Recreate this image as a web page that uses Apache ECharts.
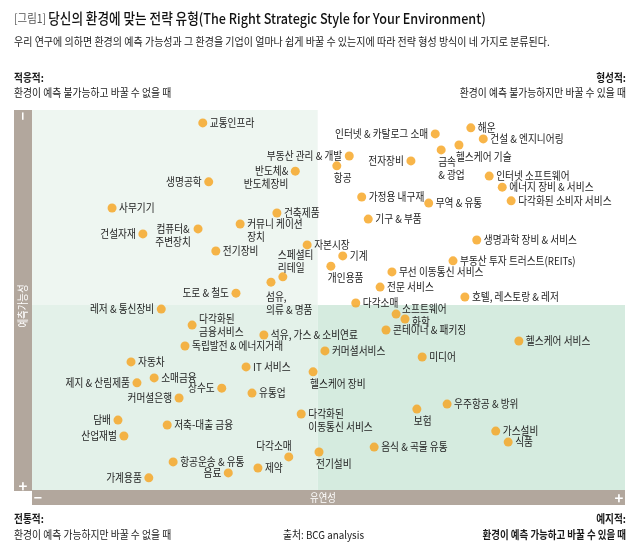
<!DOCTYPE html>
<html>
<head>
<meta charset="utf-8">
<script src="https://cdn.jsdelivr.net/npm/echarts@6/dist/echarts.min.js"></script>
<style>
html,body{margin:0;padding:0;background:#fff;}
#chart{width:640px;height:557px;}
</style>
</head>
<body>
<div id="chart"></div>
<script>
// ---- Data (flexibility: 0 = 'ー' left, 100 = '+' right; predictability: 0 = 'ー' top, 100 = '+' bottom)
const industries = [
  '교통인프라','부동산 관리 & 개발','반도체&\n반도체장비','생명공학','사무기기','건축제품',
  '커뮤니 케이션\n장치','컴퓨터&\n주변장치','건설자재','전기장비','자본시장','스페셜티\n리테일',
  '섬유,\n의류 & 명품','개인용품','기계','도로 & 철도','레저 & 통신장비','다각화된\n금융서비스',
  '석유, 가스 & 소비연료','독립발전 & 에너지거래','자동차','IT 서비스','헬스케어 장비','소매금융',
  '제지 & 산림제품','상수도','유통업','커머셜은행','다각화된\n이동통신 서비스','담배',
  '저축-대출 금융','산업재벌','다각소매','전기설비','항공운송 & 유통','제약',
  '음료','가계용품','인터넷 & 카탈로그 소매','해운','건설 & 엔지니어링','금속\n& 광업',
  '헬스케어 기술','전자장비','항공','인터넷 소프트웨어','에너지 장비 & 서비스','다각화된 소비자 서비스',
  '가정용 내구재','무역 & 유통','기구 & 부품','생명과학 장비 & 서비스','부동산 투자 트러스트(REITs)','무선 이동통신 서비스',
  '전문 서비스','호텔, 레스토랑 & 레저','다각소매','소프트웨어','화학','콘테이너 & 패키징',
  '헬스케어 서비스','커머셜서비스','미디어','우주항공 & 방위','보험','가스설비',
  '식품','음식 & 곡물 유통'
];
const flexibility = [
  28.8,53.5,44.4,29.8,13.5,41.3,
  35.1,28.0,18.7,31.0,46.4,42.3,
  40.3,50.4,52.4,34.4,21.8,27.0,
  39.1,25.8,16.7,36.1,47.4,20.6,
  17.7,32.0,37.1,24.8,45.4,14.5,
  22.8,15.5,43.3,48.4,23.8,38.1,
  33.1,19.7,68.0,74.0,76.1,69.0,
  72.0,63.9,51.4,77.1,79.3,80.8,
  55.6,66.9,56.7,75.0,71.0,60.7,
  58.7,73.0,54.6,61.4,62.9,59.7,
  82.1,49.4,65.8,70.0,64.9,78.2,
  80.3,57.7
];
const predictability = [
  3.4,12.1,16.1,18.9,25.8,27.1,
  30.0,31.3,32.6,37.1,35.5,43.9,
  45.3,41.1,38.4,48.2,52.4,56.6,
  59.2,62.1,66.3,67.6,68.9,70.5,
  71.8,73.2,74.5,75.8,80.0,81.6,
  82.9,85.8,91.3,90.0,92.6,94.2,
  95.5,96.8,6.3,4.7,7.6,10.5,
  9.2,13.4,14.7,17.4,20.3,23.9,
  22.9,24.5,28.7,34.2,39.7,42.6,
  46.6,49.2,50.8,53.7,55.0,57.9,
  60.8,63.4,65.0,77.4,78.7,84.5,
  87.4,88.7
];
// quadrant split (axis values)
const splitFlex = 48.2;
const splitPred = 51.3;

// ---- label placement codes (style, not data)
const placements = [
  'R','L','L2','L','R','R',
  'R2','C2','L','R','R','A',
  'B2','B','R','L','L','R',
  'R','R','R','R','B','R',
  'L','L','R','L','R2','L',
  'R','L','AL','B','R','R',
  'L','L','L','R','R','B',
  'B','L','B','R','R','R',
  'R','R','R','R','R','R',
  'R','R','R','RU','RD','R',
  'R','R','R','R','B','R',
  'R','R'
];
const P = {
  R:  [7, 0, 'left', 'middle'],
  L:  [-7, 0, 'right', 'middle'],
  L2: [-7, -7, 'right', 'top'],
  R2: [7, -7, 'left', 'top'],
  C2: [-25, -7, 'center', 'top'],
  A:  [-5, -3, 'left', 'bottom'],
  B:  [-3, 5, 'left', 'top'],
  B2: [-5, 8, 'left', 'top'],
  AL: [3, -11, 'right', 'middle'],
  RU: [6, -5, 'left', 'middle'],
  RD: [7, 3, 'left', 'middle']
};

const FONT = '"Noto Sans CJK KR", "Noto Sans", sans-serif';
const points = flexibility.map((x, i) => [x, predictability[i], i]);

const chart = echarts.init(document.getElementById('chart'), null, {renderer: 'canvas'});

function txt(x, y, text, opt) {
  opt = opt || {};
  return {
    type: 'text', x: x, y: y, scaleX: opt.sx || 0.82, rotation: opt.rot || 0, silent: true, z: 100,
    style: {
      text: text, fill: opt.fill || '#1a1a1a', fontFamily: FONT,
      fontSize: opt.size || 11, fontWeight: opt.weight || 'normal',
      align: opt.align || 'left', verticalAlign: 'middle', rich: opt.rich
    }
  };
}

const barColor = '#b2a79d';

chart.setOption({
  animation: false,
  backgroundColor: '#ffffff',
  grid: {left: 32, right: 15, top: 110, bottom: 67},
  xAxis: {type: 'value', min: 0, max: 100, show: false},
  yAxis: {type: 'value', min: 0, max: 100, inverse: true, show: false},
  graphic: [
    {type: 'rect', shape: {x: 14, y: 110, width: 18, height: 381}, style: {fill: barColor}, silent: true},
    {type: 'rect', shape: {x: 32, y: 490, width: 593, height: 15}, style: {fill: barColor}, silent: true},
    txt(23, 116, '−', {fill: '#fff', size: 14, weight: 'bold', align: 'center', sx: 1, rot: Math.PI / 2}),
    txt(23, 486, '+', {fill: '#fff', size: 15, weight: 'bold', align: 'center', sx: 1}),
    txt(23, 306, '예측가능성', {fill: '#fff', size: 11, align: 'center', sx: 0.85, rot: Math.PI / 2}),
    txt(38, 498, '−', {fill: '#fff', size: 14, weight: 'bold', align: 'center', sx: 1}),
    txt(323, 498, '유연성', {fill: '#fff', size: 11, align: 'center', sx: 0.85}),
    txt(619, 498, '+', {fill: '#fff', size: 15, weight: 'bold', align: 'center', sx: 1}),
    txt(14, 18, '{a|[그림1]} {b|당신의 환경에 맞는 전략 유형(The Right Strategic Style for Your Environment)}', {
      sx: 0.87,
      rich: {
        a: {fontSize: 12, fill: '#555', fontFamily: FONT},
        b: {fontSize: 14.5, fill: '#111', fontFamily: FONT, fontWeight: 500}
      }
    }),
    txt(14, 42, '우리 연구에 의하면 환경의 예측 가능성과 그 환경을 기업이 얼마나 쉽게 바꿀 수 있는지에 따라 전략 형성 방식이 네 가지로 분류된다.', {size: 11, sx: 0.91}),
    txt(14, 78, '적응적:', {size: 11, weight: 'bold', sx: 0.88}),
    txt(14, 93, '환경이 예측 불가능하고 바꿀 수 없을 때', {size: 11, sx: 0.89}),
    txt(626, 78, '형성적:', {size: 11, weight: 'bold', sx: 0.88, align: 'right'}),
    txt(626, 93, '환경이 예측 불가능하지만 바꿀 수 있을 때', {size: 11, sx: 0.89, align: 'right'}),
    txt(14, 519, '전통적:', {size: 11, weight: 'bold', sx: 0.88}),
    txt(14, 535, '환경이 예측 가능하지만 바꿀 수 없을 때', {size: 11, sx: 0.89}),
    txt(283, 535, '출처: BCG analysis', {size: 11, sx: 0.89}),
    txt(626, 519, '예지적:', {size: 11, weight: 'bold', sx: 0.88, align: 'right'}),
    txt(626, 535, '환경이 예측 가능하고 바꿀 수 있을 때', {size: 11, weight: 'bold', sx: 0.86, align: 'right'})
  ],
  series: [
    {
      type: 'scatter',
      data: points,
      symbolSize: 9,
      itemStyle: {color: '#f6a21b'},
      z: 5,
      silent: true,
      markArea: {
        silent: true,
        data: [
          [{xAxis: 0, yAxis: 0, itemStyle: {color: '#eef6f1'}}, {xAxis: splitFlex, yAxis: splitPred}],
          [{xAxis: splitFlex, yAxis: 0, itemStyle: {color: '#ffffff'}}, {xAxis: 100, yAxis: splitPred}],
          [{xAxis: 0, yAxis: splitPred, itemStyle: {color: '#e3f1e9'}}, {xAxis: splitFlex, yAxis: 100}],
          [{xAxis: splitFlex, yAxis: splitPred, itemStyle: {color: '#d5ebdf'}}, {xAxis: 100, yAxis: 100}]
        ]
      }
    },
    {
      type: 'custom',
      data: points,
      z: 6,
      silent: true,
      renderItem: function (params, api) {
        const i = api.value(2);
        const p = api.coord([api.value(0), api.value(1)]);
        const lay = P[placements[i]] || P.R;
        return {
          type: 'text',
          x: p[0] + lay[0],
          y: p[1] + lay[1],
          scaleX: 0.88,
          silent: true,
          style: {
            text: industries[i],
            fill: '#222222',
            fontFamily: FONT,
            fontSize: 11,
            lineHeight: 13,
            align: lay[2],
            verticalAlign: lay[3]
          }
        };
      }
    }
  ]
});
</script>
</body>
</html>
